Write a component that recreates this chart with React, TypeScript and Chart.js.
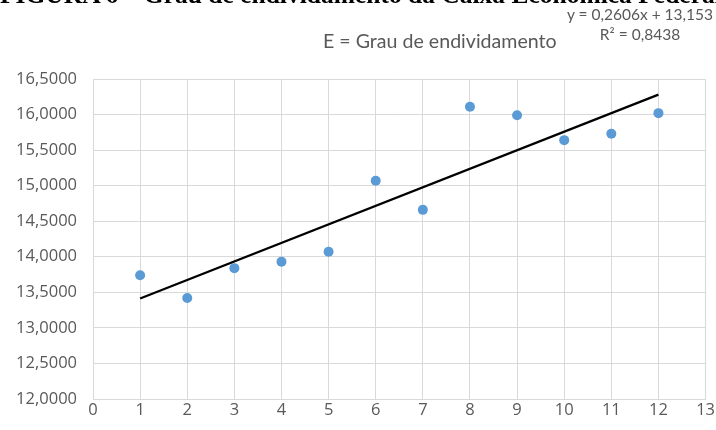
import React, { useEffect, useRef } from "react";
import { Chart, registerables } from "chart.js";

Chart.register(...registerables);

const periods: number[] = [1, 2, 3, 4, 5, 6, 7, 8, 9, 10, 11, 12];
const debtRatio: number[] = [13.74, 13.42, 13.84, 13.93, 14.07, 15.07, 14.66, 16.11, 15.99, 15.64, 15.73, 16.02];
const trendSlope = 0.2606;
const trendIntercept = 13.153;
const rSquared = "0,8438";
const xTicks: number[] = [0, 1, 2, 3, 4, 5, 6, 7, 8, 9, 10, 11, 12, 13];
const yTicks: number[] = [12, 12.5, 13, 13.5, 14, 14.5, 15, 15.5, 16, 16.5];

const caption = "FIGURA 6 – Grau de endividamento da Caixa Econômica Federal";
const chartTitle = "E = Grau de endividamento";
const equationText = "y = 0,2606x + 13,153";

const fmt = (v: number) => v.toFixed(4).replace(".", ",");

export default function App() {
  const ref = useRef<HTMLCanvasElement | null>(null);

  useEffect(() => {
    document.body.style.margin = "0";
    const canvas = ref.current;
    if (!canvas) return;
    const scatter = periods.map((x, i) => ({ x, y: debtRatio[i] }));
    const xFirst = periods[0];
    const xLast = periods[periods.length - 1];
    const trend = [
      { x: xFirst, y: trendIntercept + trendSlope * xFirst },
      { x: xLast, y: trendIntercept + trendSlope * xLast },
    ];
    const chart = new Chart(canvas, {
      type: "scatter",
      data: {
        datasets: [
          {
            label: "Tendência",
            data: trend,
            showLine: true,
            borderColor: "#000000",
            borderWidth: 2.2,
            pointRadius: 0,
            pointHoverRadius: 0,
          },
          {
            label: "E",
            data: scatter,
            backgroundColor: "#5b9bd5",
            borderColor: "#5b9bd5",
            pointRadius: 5,
            borderWidth: 0,
          },
        ],
      },
      options: {
        animation: false,
        responsive: false,
        maintainAspectRatio: false,
        layout: { padding: { top: 79, left: 0, right: 10, bottom: 0 } },
        plugins: {
          legend: { display: false },
          title: { display: false },
          tooltip: { enabled: false },
        },
        scales: {
          x: {
            type: "linear",
            min: 0,
            max: 13,
            afterBuildTicks: (s: any) => {
              s.ticks = xTicks.map((v) => ({ value: v }));
            },
            afterFit: (s: any) => {
              s.height = 31;
            },
            grid: { color: "#d9d9d9", lineWidth: 1, drawTicks: false },
            border: { color: "#d9d9d9" },
            ticks: {
              color: "#595959",
              font: { family: "'Open Sans'", size: 16.5 },
              padding: 1,
              callback: (v: any) => String(v),
            },
          },
          y: {
            type: "linear",
            min: 12,
            max: 16.5,
            afterBuildTicks: (s: any) => {
              s.ticks = yTicks.map((v) => ({ value: v }));
            },
            afterFit: (s: any) => {
              s.width = 93;
            },
            grid: { color: "#d9d9d9", lineWidth: 1, drawTicks: false },
            border: { color: "#d9d9d9" },
            ticks: {
              color: "#595959",
              font: { family: "'Open Sans'", size: 16.5 },
              padding: 16,
              callback: (v: any) => fmt(Number(v)),
            },
          },
        },
      },
    });
    return () => chart.destroy();
  }, []);

  return (
    <div style={{ position: "fixed", left: 0, top: 0, width: 716, height: 430, overflow: "hidden", background: "#ffffff" }}>
      <canvas ref={ref} width={716} height={430} style={{ position: "absolute", left: 0, top: 0 }} />
      <div
        style={{
          position: "absolute",
          left: 0,
          top: -18,
          width: 900,
          whiteSpace: "nowrap",
          fontFamily: "'Liberation Serif', 'Times New Roman', serif",
          fontWeight: "bold",
          fontSize: 25.5,
          lineHeight: "26px",
          color: "#000",
        }}
      >
        {caption}
      </div>
      <div
        style={{
          position: "absolute",
          left: 323,
          top: 28,
          whiteSpace: "nowrap",
          fontFamily: "Lato, sans-serif",
          fontSize: 19.6,
          lineHeight: "26px",
          color: "#595959",
        }}
      >
        {chartTitle}
      </div>
      <div
        style={{
          position: "absolute",
          left: 562,
          top: 4,
          width: 156,
          textAlign: "center",
          whiteSpace: "nowrap",
          fontFamily: "Lato, sans-serif",
          fontSize: 15.5,
          lineHeight: "20px",
          color: "#595959",
        }}
      >
        <div>{equationText}</div>
        <div>R² = {rSquared}</div>
      </div>
    </div>
  );
}
